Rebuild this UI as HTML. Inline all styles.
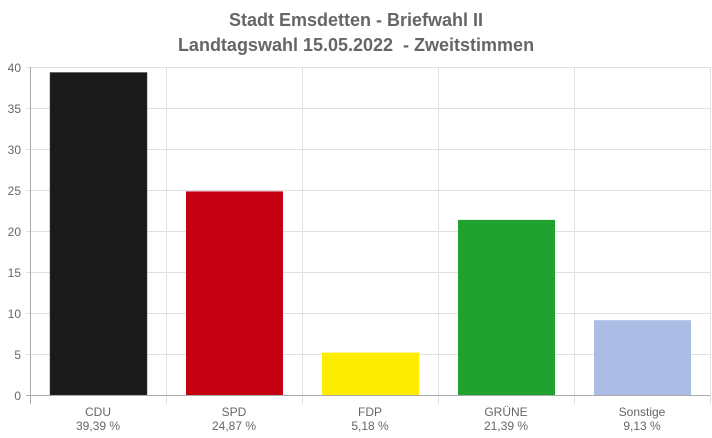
<!DOCTYPE html>
<html><head><meta charset="utf-8"><style>body{margin:0;background:#fff}svg{display:block}</style></head><body>
<svg width="712" height="438" xmlns="http://www.w3.org/2000/svg" font-family="Liberation Sans, sans-serif">
<rect width="712" height="438" fill="#fff"/>
<text x="356" y="26" text-anchor="middle" font-size="18" font-weight="bold" fill="#666">Stadt Emsdetten - Briefwahl II</text>
<text x="356" y="51" text-anchor="middle" font-size="18" font-weight="bold" fill="#666" style="white-space:pre">Landtagswahl 15.05.2022  - Zweitstimmen</text>
<g stroke="#e0e0e0" stroke-width="1">
<line x1="26" y1="67.5" x2="710" y2="67.5"/>
<line x1="26" y1="108.5" x2="710" y2="108.5"/>
<line x1="26" y1="149.5" x2="710" y2="149.5"/>
<line x1="26" y1="190.5" x2="710" y2="190.5"/>
<line x1="26" y1="231.5" x2="710" y2="231.5"/>
<line x1="26" y1="272.5" x2="710" y2="272.5"/>
<line x1="26" y1="313.5" x2="710" y2="313.5"/>
<line x1="26" y1="354.5" x2="710" y2="354.5"/>
<line x1="166.5" y1="67" x2="166.5" y2="404"/>
<line x1="302.5" y1="67" x2="302.5" y2="404"/>
<line x1="438.5" y1="67" x2="438.5" y2="404"/>
<line x1="574.5" y1="67" x2="574.5" y2="404"/>
<line x1="710.5" y1="67" x2="710.5" y2="404"/>
</g>
<rect x="50" y="72.5" width="97" height="322.5" fill="#1a1a1a" stroke="#444" stroke-width="0.5"/>
<rect x="186" y="191.4" width="97" height="203.6" fill="#c40012"/>
<rect x="322" y="352.6" width="97" height="42.4" fill="#ffed00"/>
<rect x="458" y="219.9" width="97" height="175.1" fill="#20a130"/>
<rect x="594" y="320.2" width="97" height="74.8" fill="#abbde4"/>
<line x1="30.5" y1="67" x2="30.5" y2="404" stroke="#aaa"/>
<line x1="26" y1="395.5" x2="710" y2="395.5" stroke="#aaa"/>
<g font-size="12" fill="#666" text-anchor="end">
<text x="21" y="72">40</text><text x="21" y="113">35</text><text x="21" y="154">30</text>
<text x="21" y="195">25</text><text x="21" y="236">20</text><text x="21" y="277">15</text>
<text x="21" y="318">10</text><text x="21" y="359">5</text><text x="21" y="400">0</text>
</g>
<g font-size="12" fill="#666" text-anchor="middle">
<text x="98" y="416">CDU</text><text x="98" y="430">39,39 %</text>
<text x="234" y="416">SPD</text><text x="234" y="430">24,87 %</text>
<text x="370" y="416">FDP</text><text x="370" y="430">5,18 %</text>
<text x="506" y="416">GRÜNE</text><text x="506" y="430">21,39 %</text>
<text x="642" y="416">Sonstige</text><text x="642" y="430">9,13 %</text>
</g>
</svg>
</body></html>
